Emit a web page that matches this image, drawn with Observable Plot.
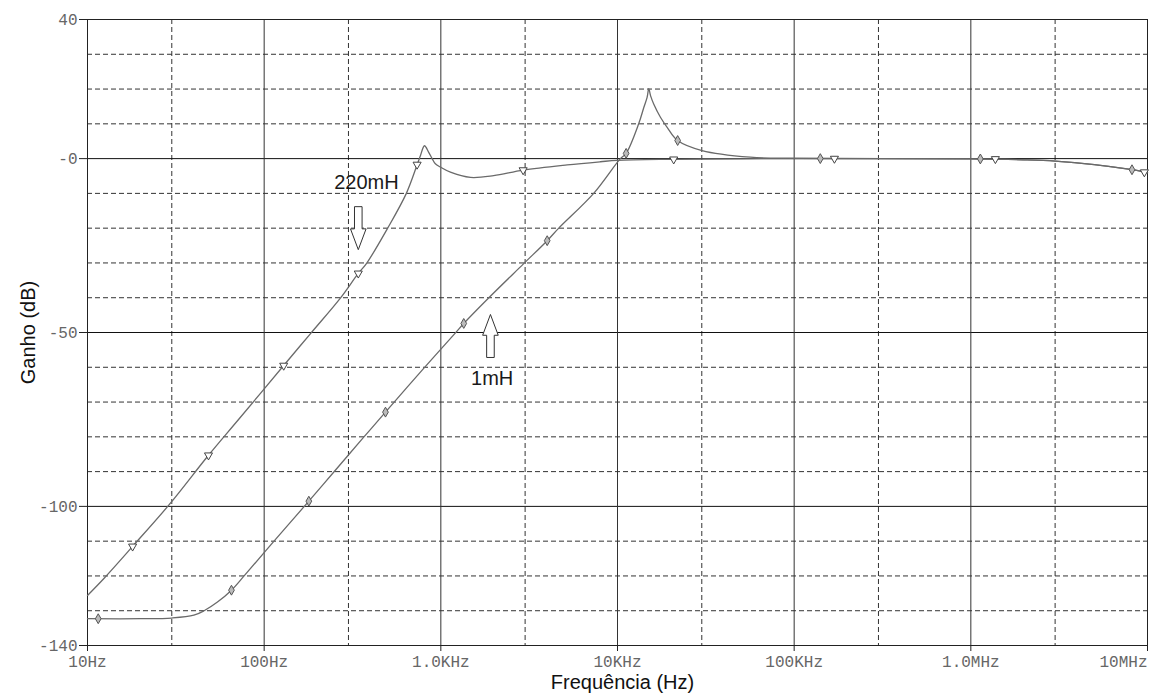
<!DOCTYPE html>
<html>
<head>
<meta charset="utf-8">
<script src="https://cdn.jsdelivr.net/npm/d3@7"></script>
<script src="https://cdn.jsdelivr.net/npm/@observablehq/plot@0.6"></script>
<style>
  html, body { margin: 0; padding: 0; background: #fff; }
</style>
</head>
<body>
<div id="chart"></div>
<script>
// ---- data ----
const freq220 = [10, 12.5, 18, 29, 48.4, 72.2, 129, 183, 270, 341, 379, 500, 638, 735, 767, 808, 854, 893, 931, 1000, 1133, 1471, 1990, 2924, 5190, 8000, 10000, 20000, 50000, 100000, 1e6, 2e6, 3e6, 5e6, 8e6, 1e7];
const gain220 = [-125.6, -120.5, -111.5, -99.5, -85.3, -74.8, -59.5, -50.3, -40.1, -33, -30.2, -20, -10, -1.7, 0.9, 3.7, 1.8, 0, -1.5, -2.5, -3.9, -5.4, -4.9, -3.3, -1.8, -0.9, -0.5, -0.2, -0.05, 0, -0.1, -0.35, -0.7, -1.7, -3.1, -4.0];

const freq1 = [10, 20, 30, 40, 45.7, 54.4, 65.3, 77, 114, 179, 248, 359, 486, 784, 1210, 1348, 1828, 2945, 4000, 4650, 7330, 10380, 11190, 13180, 14090, 14710, 15030, 15380, 16030, 17500, 19100, 21900, 30100, 56500, 100000, 1e6, 2e6, 3e6, 5e6, 8e6, 1e7];
const gain1 = [-132.3, -132.3, -132.1, -131.3, -130, -127.5, -124.1, -120, -109.9, -98.5, -90.1, -80.6, -72.9, -60.8, -50.1, -47.4, -40.5, -30.2, -23.6, -20, -10, 0, 1.5, 10, 14.7, 17.6, 20.1, 18.1, 15.7, 11.9, 9, 5.2, 2.3, 0.4, 0.1, -0.1, -0.35, -0.7, -1.7, -3.1, -4.0];

const markFreq220 = [18.0, 48.4, 129, 341, 734, 2924, 20800, 169000, 1.377e6, 9.6e6];
const markGain220 = [-111.5, -85.3, -59.5, -33, -1.7, -3.3, -0.2, 0, -0.1, -3.9];
const markFreq1 = [11.5, 65.3, 179, 486, 1348, 4000, 11190, 21900, 140600, 1.132e6, 8.17e6];
const markGain1 = [-132.3, -124.1, -98.5, -72.9, -47.4, -23.6, 1.5, 5.2, 0, -0.1, -3.2];

const xTicks = [10, 100, 1000, 1e4, 1e5, 1e6, 1e7];
const xTickLabels = ["10Hz", "100Hz", "1.0KHz", "10KHz", "100KHz", "1.0MHz", "10MHz"];
const yTicks = [40, 0, -50, -100, -140];
const yTickLabels = ["40", "-0", "-50", "-100", "-140"];

const xGridSolid = [100, 1000, 1e4, 1e5, 1e6];
const xGridDashed = [30, 300, 3000, 3e4, 3e5, 3e6];
const yGridSolid = [0, -50, -100];
const yGridDashed = [30, 20, 10, -10, -20, -30, -40, -60, -70, -80, -90, -110, -120, -130];

const labels = ["220mH", "1mH"];
const labelFreq = [379, 1951];
const labelGain = [-6.9, -63.3];
const arrowFreq = [341, 1909];
const arrowGain = [-20.0, -51.0];
const arrowDir = [0, 180];

const xTitle = "Frequência (Hz)";
const yTitle = "Ganho (dB)";

// ---- build tables ----
const line220 = freq220.map((f, i) => ({f, g: gain220[i]}));
const line1 = freq1.map((f, i) => ({f, g: gain1[i]}));
const mk220 = markFreq220.map((f, i) => ({f, g: markGain220[i]}));
const mk1 = markFreq1.map((f, i) => ({f, g: markGain1[i]}));
const ann = labels.map((t, i) => ({t, f: labelFreq[i], g: labelGain[i]}));
const arrows = arrowFreq.map((f, i) => ({f, g: arrowGain[i], r: arrowDir[i]}));

// hollow block arrow pointing down (rotated for up)
const blockArrow = {
  draw(ctx) {
    ctx.moveTo(-3.8, -21.5);
    ctx.lineTo(3.8, -21.5);
    ctx.lineTo(3.8, 0.7);
    ctx.lineTo(7.8, 0.7);
    ctx.lineTo(0, 21.5);
    ctx.lineTo(-7.8, 0.7);
    ctx.lineTo(-3.8, 0.7);
    ctx.closePath();
  }
};

const sans = "'Liberation Sans', Arial, Helvetica, sans-serif";
const mono = "'Liberation Mono', 'Courier New', monospace";
const dash = "5,3";

const chart = Plot.plot({
  width: 1154,
  height: 698,
  marginTop: 19,
  marginBottom: 53,
  marginLeft: 87,
  marginRight: 7,
  style: {fontFamily: mono, fontSize: "16px", background: "#fff", color: "#222"},
  x: {type: "log", domain: [10, 1e7], axis: null, label: null},
  y: {domain: [-140, 40], axis: null, label: null},
  marks: [
    Plot.ruleY(yGridDashed, {stroke: "#333", strokeDasharray: dash, strokeWidth: 1}),
    Plot.ruleX(xGridDashed, {stroke: "#333", strokeDasharray: dash, strokeWidth: 1}),
    Plot.ruleY(yGridSolid, {stroke: "#111", strokeWidth: 1}),
    Plot.ruleX(xGridSolid, {stroke: "#333", strokeWidth: 1}),
    Plot.frame({stroke: "#222"}),
    Plot.line(line220, {x: "f", y: "g", stroke: "#6a6a6a", strokeWidth: 1.3, curve: "catmull-rom"}),
    Plot.line(line1, {x: "f", y: "g", stroke: "#6a6a6a", strokeWidth: 1.3, curve: "catmull-rom"}),
    Plot.dot(mk220, {x: "f", y: "g", symbol: "triangle", rotate: 180, r: 3, fill: "#fff", stroke: "#444", strokeWidth: 1}),
    Plot.dot(mk1, {x: "f", y: "g", symbol: "diamond", r: 3, fill: "#bbb", stroke: "#555", strokeWidth: 1}),
    Plot.dot(arrows, {x: "f", y: "g", symbol: blockArrow, rotate: "r", r: 5, fill: "#fff", stroke: "#333", strokeWidth: 1}),
    Plot.text(ann, {x: "f", y: "g", text: "t", fontFamily: sans, fontSize: 20, fill: "#1a1a1a"}),
    Plot.axisY(yTicks, {tickFormat: d => yTickLabels[yTicks.indexOf(d)], tickSize: 8, tickPadding: 2, stroke: "#222", fill: "#666", fontSize: 16}),
    Plot.axisX(xTicks.slice(0, -1), {tickFormat: d => xTickLabels[xTicks.indexOf(d)], tickSize: 6, tickPadding: 4, stroke: "#222", fill: "#666", fontSize: 16}),
    Plot.axisX(xTicks.slice(-1), {tickFormat: d => xTickLabels[xTicks.indexOf(d)], tickSize: 6, tickPadding: 4, textAnchor: "end", stroke: "#222", fill: "#666", fontSize: 16}),
    Plot.text([yTitle], {frameAnchor: "left", dx: -59, rotate: -90, textAnchor: "middle", text: d => d, fontFamily: sans, fontSize: 20, fill: "#111"}),
    Plot.text([xTitle], {frameAnchor: "bottom", dx: 5, dy: 43, textAnchor: "middle", text: d => d, fontFamily: sans, fontSize: 20, fill: "#111"})
  ]
});
document.getElementById("chart").appendChild(chart);
</script>
</body>
</html>
